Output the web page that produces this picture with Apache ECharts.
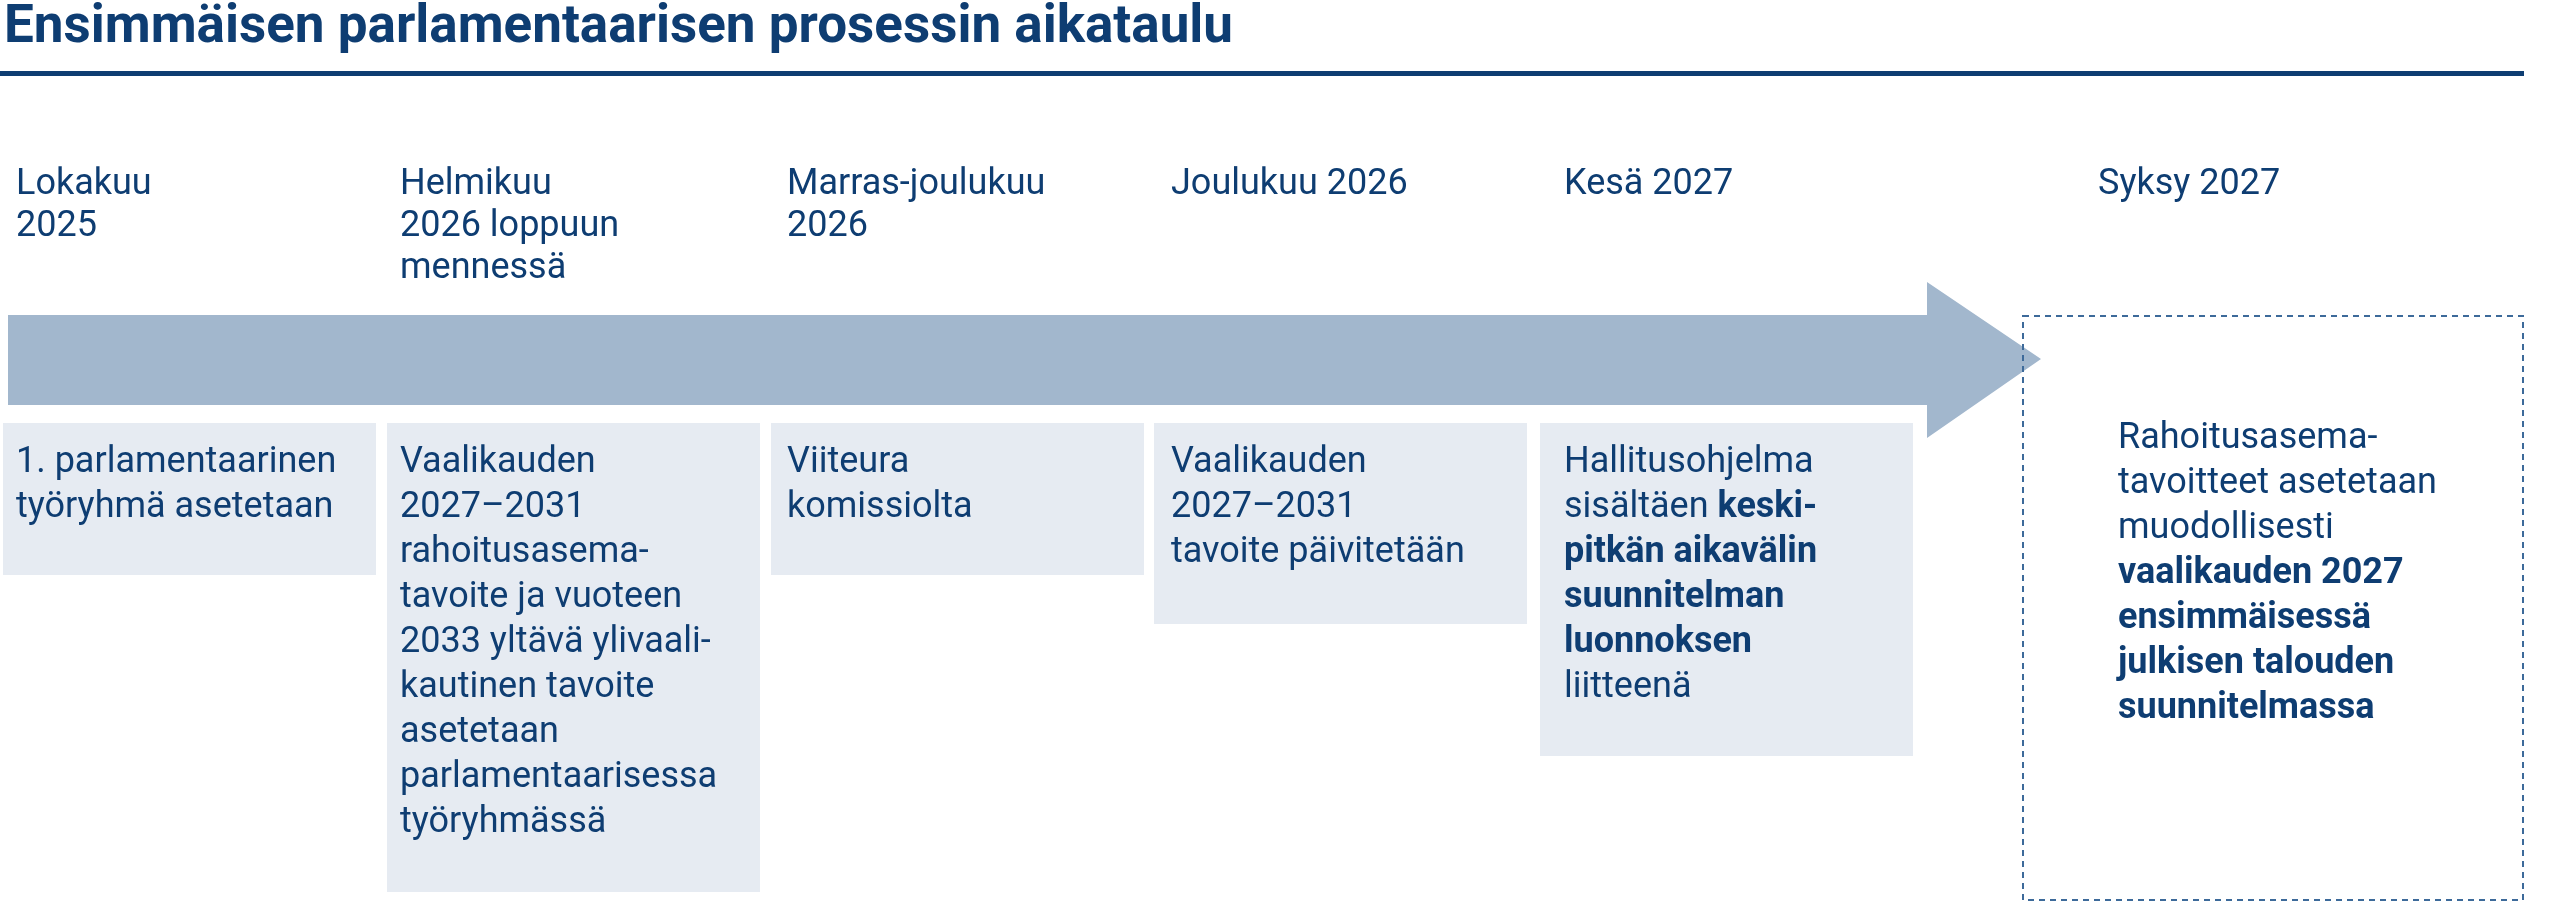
<!DOCTYPE html>
<html>
<head>
<meta charset="utf-8">
<script src="https://cdn.jsdelivr.net/npm/echarts@6/dist/echarts.min.js"></script>
<style>html,body{margin:0;padding:0;background:#fff}#chart{width:2560px;height:903px}</style>
</head>
<body>
<div id="chart"></div>
<script>
// Timeline labels
var titleText = 'Ensimmäisen parlamentaarisen prosessin aikataulu';
var dateLabels = ['Lokakuu\n2025', 'Helmikuu\n2026 loppuun\nmennessä', 'Marras-joulukuu\n2026', 'Joulukuu 2026', 'Kesä 2027', 'Syksy 2027'];
var stepTexts = [
    '1. parlamentaarinen\ntyöryhmä asetetaan',
    'Vaalikauden\n2027–2031\nrahoitusasema-\ntavoite ja vuoteen\n2033 yltävä ylivaali-\nkautinen tavoite\nasetetaan\nparlamentaarisessa\ntyöryhmässä',
    'Viiteura\nkomissiolta',
    'Vaalikauden\n2027–2031\ntavoite päivitetään',
    'Hallitusohjelma\nsisältäen {b|keski-}\n{b|pitkän aikavälin}\n{b|suunnitelman}\n{b|luonnoksen}\nliitteenä',
    'Rahoitusasema-\ntavoitteet asetetaan\nmuodollisesti\n{b|vaalikauden 2027}\n{b|ensimmäisessä}\n{b|julkisen talouden}\n{b|suunnitelmassa}'
];

var chart = echarts.init(document.getElementById('chart'));
var navy = '#0e3d72';
var font = 'Roboto, Arial, sans-serif';

var colX = [3, 387, 771, 1154, 1540];
var textX = [16, 400, 787, 1171, 1564];
var colBottom = [575, 892, 575, 624, 756];
var labelX = [16, 400, 787, 1171, 1564, 2098];

var els = [];

// Title and rule
els.push({type: 'text', left: 4, top: 2, style: {text: titleText, fill: navy, font: 'bold 53px ' + font}});
els.push({type: 'rect', shape: {x: 0, y: 71, width: 2524, height: 5}, style: {fill: navy}});

// Arrow
els.push({type: 'polygon', shape: {points: [[8, 315], [1927, 315], [1927, 282], [2041, 359], [1927, 438], [1927, 405], [8, 405]]}, style: {fill: '#a2b7cd'}});

// Dashed final box
els.push({type: 'rect', z: 2, shape: {x: 2023, y: 316, width: 500, height: 584}, style: {fill: 'none', stroke: '#3d6a9a', lineWidth: 2, lineDash: [6, 5]}});

var richStyle = {b: {fontWeight: 'bold', fontSize: 36, lineHeight: 45, fill: navy, fontFamily: font}};

dateLabels.forEach(function (d, i) {
    els.push({type: 'text', x: labelX[i], y: 164, style: {text: d, fill: navy, fontSize: 36, lineHeight: 42, fontFamily: font, verticalAlign: 'top'}});
});

stepTexts.forEach(function (t, i) {
    if (i < 5) {
        els.push({type: 'rect', shape: {x: colX[i], y: 423, width: 373, height: colBottom[i] - 423}, style: {fill: '#e6ebf2'}});
        els.push({type: 'text', z: 3, x: textX[i], y: 440, style: {text: t, fill: navy, fontSize: 36, lineHeight: 45, fontFamily: font, verticalAlign: 'top', rich: richStyle}});
    } else {
        els.push({type: 'text', z: 3, x: 2118, y: 416, style: {text: t, fill: navy, fontSize: 36, lineHeight: 45, fontFamily: font, verticalAlign: 'top', rich: richStyle}});
    }
});

chart.setOption({animation: false, graphic: {elements: els}});
</script>
</body>
</html>
